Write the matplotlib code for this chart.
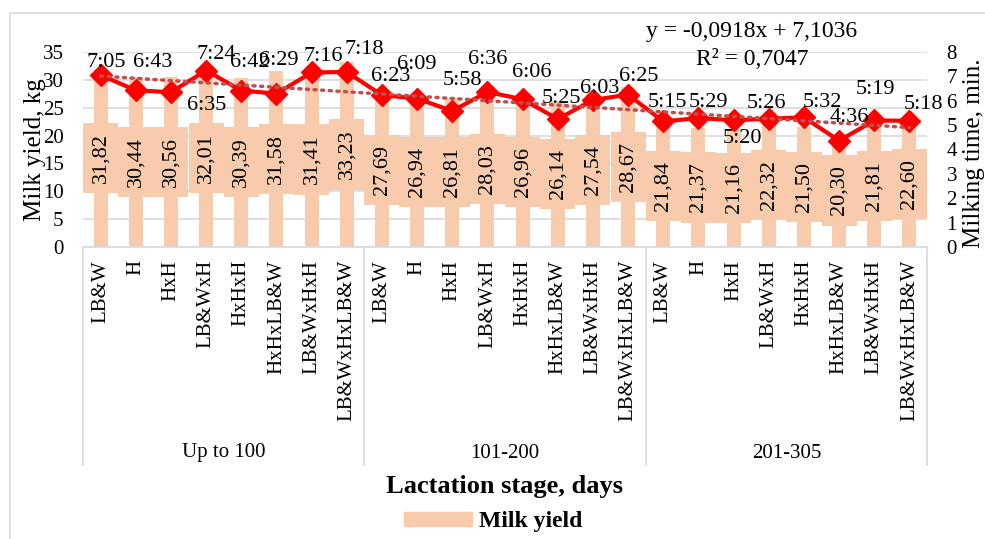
import numpy as np
import matplotlib
matplotlib.use("Agg")
import matplotlib.pyplot as plt
from matplotlib import patches, transforms
from matplotlib.lines import Line2D

plt.rcParams['font.family'] = ['Liberation Serif', 'DejaVu Serif']

breeds = ["LB&W", "H", "HxH", "LB&WxH", "HxHxH", "HxHxLB&W", "LB&WxHxH", "LB&WxHxLB&W"]
stages = ["Up to 100", "101-200", "201-305"]
milk_yield = [31.82, 30.44, 30.56, 32.01, 30.39, 31.58, 31.41, 33.23,
              27.69, 26.94, 26.81, 28.03, 26.96, 26.14, 27.54, 28.67,
              21.84, 21.37, 21.16, 22.32, 21.50, 20.30, 21.81, 22.60]
# milking time, stored as h.mm the way the sheet plotted it
milking_time = [7.05, 6.43, 6.35, 7.24, 6.42, 6.29, 7.16, 7.18,
                6.23, 6.09, 5.58, 6.36, 6.06, 5.25, 6.03, 6.25,
                5.15, 5.29, 5.20, 5.26, 5.32, 4.36, 5.19, 5.18]
# trendline as printed on the chart
trend_slope, trend_intercept, trend_r2 = -0.0918, 7.1036, 0.7047

categories = breeds * len(stages)
x = np.arange(len(categories))

bar_color = "#F8CBAD"
line_color = "#FF0000"
trend_color = "#C0504D"
grid_color = "#D9D9D9"

W, H = 985, 539
fig = plt.figure(figsize=(W / 100, H / 100), dpi=100)
ax = fig.add_axes([83 / W, 1 - 247 / H, (927 - 83) / W, (247 - 52) / H])

# outer chart border
fig.patches.append(patches.Rectangle((10 / W, -0.1), 1.2, 1 - 13 / H + 0.1,
                                     transform=fig.transFigure, fill=False,
                                     ec=grid_color, lw=1.2))

ax.bar(x, milk_yield, width=0.4, color=bar_color, zorder=2)
ax.set_xlim(-0.5, len(x) - 0.5)
ax.set_ylim(0, 35)
ax.set_yticks(range(0, 36, 5))
ax.yaxis.grid(True, color=grid_color, lw=1.2, zorder=0)
ax.set_axisbelow(True)
ax.set_xticks([])
for s in ["top", "left", "right"]:
    ax.spines[s].set_visible(False)
ax.spines["bottom"].set_color(grid_color)
ax.spines["bottom"].set_linewidth(1.2)
ax.tick_params(axis="y", length=0, pad=14, labelsize=15)
ax.set_ylabel("Milk yield, kg", fontsize=18)
ax.yaxis.set_label_coords(-0.044, 0.5)

# value labels with a bar-coloured box, as in the sheet
for xi, v in zip(x, milk_yield):
    ax.add_patch(patches.Rectangle((xi - 0.5, v / 2 - 6.3), 1.0, 12.6,
                                   fc=bar_color, ec="none", zorder=3))
    ax.text(xi, v / 2, f"{v:.2f}".replace(".", ","), rotation=90,
            ha="center", va="center", fontsize=16, zorder=4)

# category and stage labels
tr = transforms.blended_transform_factory(ax.transData, fig.transFigure)
for xi, lab in zip(x, categories):
    ax.text(xi, 1 - 260 / H, lab, rotation=90, ha="center", va="top",
            fontsize=15, transform=tr)
for k, st in enumerate(stages):
    ax.text(k * 8 + 3.5, 1 - 453 / H, st, ha="center", va="center",
            fontsize=15, transform=tr)
for k in range(len(stages) + 1):
    ax.add_line(Line2D([k * 8 - 0.5] * 2, [1 - 247 / H, 1 - 465 / H],
                       transform=tr, color=grid_color, lw=1.2, clip_on=False))

fig.text(505 / W, 1 - 487 / H, "Lactation stage, days", ha="center",
         va="center", fontsize=19, fontweight="bold")

ax2 = ax.twinx()
ax2.set_ylim(0, 8)
ax2.set_yticks(range(0, 9))
for s in ax2.spines.values():
    s.set_visible(False)
ax2.tick_params(axis="y", length=0, pad=14, labelsize=15)
ax2.set_ylabel("Milking time, min.", fontsize=18)
ax2.yaxis.set_label_coords(1.043, 0.48)

ax2.plot(x, milking_time, color=line_color, lw=3, marker="D", ms=11, zorder=5)

# linear trend over point numbers 1..24 like Excel
n = np.arange(1, len(x) + 1)
ax2.plot(x, trend_slope * n + trend_intercept, color=trend_color, lw=2.5,
         linestyle=(0, (0.6, 1.6)), dash_capstyle="round", zorder=6)
fig.text(752 / W, 1 - 32 / H,
         f"y = {trend_slope:.4f}x + {trend_intercept:.4f}".replace(".", ","),
         ha="center", va="center", fontsize=17)
fig.text(752 / W, 1 - 60 / H, f"R² = {trend_r2:.4f}".replace(".", ","),
         ha="center", va="center", fontsize=17)

# label offsets in pixels, moved by hand in the original
offsets = [(6, 13), (17, 28), (36, -13), (10, 16), (8, 28), (2, 33), (12, 16), (17, 22),
           (9, 19), (0, 34), (10, 30), (0, 32), (9, 27), (4, 21), (7, 12), (11, 18),
           (4, 19), (10, 16), (9, -18), (-2, 15), (18, 15), (10, 23), (1, 31), (14, 16)]
for xi, t, off in zip(x, milking_time, offsets):
    ax2.annotate(f"{t:.2f}".replace(".", ":"), xy=(xi, t), xytext=off,
                 textcoords="offset pixels", ha="center", va="center",
                 fontsize=16, zorder=7)

leg = fig.legend(handles=[patches.Patch(color=bar_color, label="Milk yield")],
                 loc="center", bbox_to_anchor=(493 / W, 1 - 522 / H),
                 frameon=False, handlelength=2.9, handleheight=0.5,
                 handletextpad=0.3, prop={"size": 17, "weight": "bold"})

fig.savefig("out.png", dpi=100)
